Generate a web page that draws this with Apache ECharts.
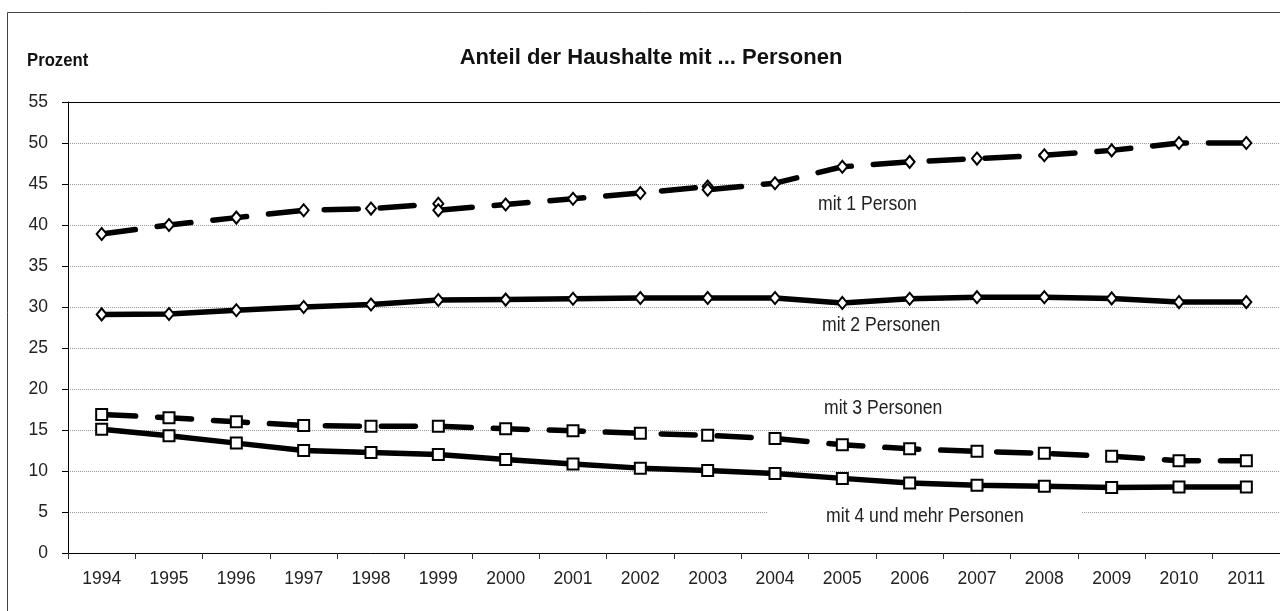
<!DOCTYPE html>
<html>
<head>
<meta charset="utf-8">
<script src="https://cdn.jsdelivr.net/npm/echarts@6/dist/echarts.min.js"></script>
<style>
  html, body { margin: 0; padding: 0; background: #fff; }
  #chart { width: 1280px; height: 611px; }
</style>
</head>
<body>
<div id="chart"></div>
<script>
// Jahre (Kategorien)
const years = ['1994', '1995', '1996', '1997', '1998', '1999', '2000', '2001', '2002',
               '2003', '2004', '2005', '2006', '2007', '2008', '2009', '2010', '2011'];
const yTicks = [0, 5, 10, 15, 20, 25, 30, 35, 40, 45, 50, 55];

// mit 1 Person - Zeitreihe mit Brüchen 1999 und 2003
const p1Old = [38.9, 40.0, 40.9, 41.8, 42.0, 42.6];        // 1994-1999
const p1Mid = [41.8, 42.5, 43.2, 43.9, 44.7];              // 1999-2003
const p1New = [44.3, 45.1, 47.1, 47.7, 48.1, 48.5, 49.1, 50.0, 50.0]; // 2003-2011

// mit 2 Personen
const p2 = [29.1, 29.15, 29.6, 30.0, 30.3, 30.85, 30.9, 31.0, 31.1,
            31.1, 31.1, 30.5, 31.0, 31.2, 31.2, 31.05, 30.6, 30.6];
// mit 3 Personen
const p3 = [16.9, 16.5, 16.0, 15.55, 15.45, 15.45, 15.15, 14.9, 14.6,
            14.35, 13.95, 13.2, 12.7, 12.4, 12.15, 11.8, 11.25, 11.25];
// mit 4 und mehr Personen
const p4 = [15.1, 14.3, 13.4, 12.5, 12.25, 12.0, 11.4, 10.85, 10.35,
            10.05, 9.7, 9.1, 8.55, 8.25, 8.15, 8.0, 8.05, 8.05];

// Teilreihe an der richtigen Jahresposition einsetzen
function placeAt(values, startYear) {
    const out = years.map(() => '-');
    const idx = years.indexOf(startYear);
    values.forEach((v, i) => { out[idx + i] = v; });
    return out;
}

const FONT = "'Liberation Sans', Arial, sans-serif";
const dashed = [34, 22];
const NARROW = 0.88; // schmale Schrift nachbilden

function lineSeries(data, dash, symbol, size) {
    return {
        type: 'line',
        data: data,
        symbol: symbol,
        symbolSize: size,
        showAllSymbol: true,
        silent: true,
        z: 3,
        lineStyle: { color: '#000', width: 5.5, type: dash, cap: 'round', join: 'round' },
        itemStyle: { color: '#fff', borderColor: '#000', borderWidth: 2 },
        animation: false
    };
}

function note(text, x, y, extra) {
    return {
        type: 'text', x: x, y: y, z: 10, scaleX: NARROW,
        style: Object.assign({ text: text, fill: '#222', font: '20px ' + FONT,
                 textAlign: 'left', textVerticalAlign: 'middle' }, extra || {})
    };
}

const chart = echarts.init(document.getElementById('chart'));

const option = {
    animation: false,
    backgroundColor: '#fff',
    textStyle: { fontFamily: FONT },
    grid: { left: 68, top: 102, width: 1214, height: 451, containLabel: false },
    xAxis: {
        type: 'category',
        data: years,
        boundaryGap: true,
        axisLine: { lineStyle: { color: '#000', width: 1 } },
        axisTick: { show: true, interval: 0, length: 6, lineStyle: { color: '#333' } },
        axisLabel: { interval: 0, margin: 17, fontSize: 17.5, color: '#222', fontFamily: FONT },
        splitLine: { show: false }
    },
    yAxis: {
        type: 'value',
        min: yTicks[0],
        max: yTicks[yTicks.length - 1],
        interval: 5,
        axisLine: { show: true, lineStyle: { color: '#000', width: 1 } },
        axisTick: { show: true, length: 6, lineStyle: { color: '#000' } },
        axisLabel: { margin: 20, fontSize: 17.5, color: '#222', fontFamily: FONT },
        splitLine: { show: true, lineStyle: { color: '#999', width: 1, type: [1, 1] } }
    },
    series: [
        Object.assign(lineSeries(placeAt(p1Old, '1994'), dashed, 'diamond', [10, 12]), {
            markLine: {
                silent: true, symbol: 'none', label: { show: false },
                lineStyle: { color: '#000', width: 1, type: 'solid' },
                data: [{ yAxis: 55 }]
            }
        }),
        lineSeries(placeAt(p1Mid, '1999'), dashed, 'diamond', [10, 12]),
        lineSeries(placeAt(p1New, '2003'), dashed, 'diamond', [10, 12]),
        lineSeries(p2, 'solid', 'diamond', [10, 12]),
        lineSeries(p3, dashed, 'rect', 11),
        lineSeries(p4, 'solid', 'rect', 11)
    ],
    graphic: [
        {
            type: 'rect', silent: true, z: 0,
            shape: { x: 7.5, y: 12.5, width: 1400, height: 800 },
            style: { fill: 'none', stroke: '#444', lineWidth: 1 }
        },
        {
            type: 'text', x: 651, y: 58, z: 10,
            style: { text: 'Anteil der Haushalte mit ... Personen', fill: '#111',
                     font: 'bold 22px ' + FONT, textAlign: 'center', textVerticalAlign: 'middle' }
        },
        {
            type: 'text', x: 27, y: 61, z: 10, scaleX: NARROW,
            style: { text: 'Prozent', fill: '#111', font: 'bold 19px ' + FONT,
                     textAlign: 'left', textVerticalAlign: 'middle' }
        },
        note('mit 1 Person', 818, 204),
        note('mit 2 Personen', 822, 325),
        note('mit 3 Personen', 824, 408),
        note('mit 4 und mehr Personen', 768, 516,
             { backgroundColor: '#fff', padding: [4, 66, 4, 66] })
    ]
};

chart.setOption(option);
</script>
</body>
</html>
